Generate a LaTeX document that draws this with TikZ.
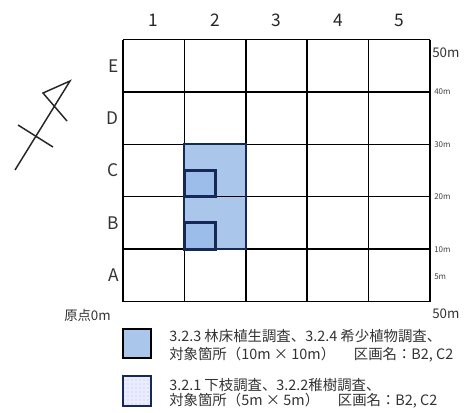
\documentclass[tikz,border=0pt]{standalone}
\usepackage{fontspec}
\setmainfont{Noto Sans CJK JP}
\usepackage{tikz}
\usetikzlibrary{patterns}

\definecolor{plotblue}{RGB}{170,198,234}
\definecolor{subblue}{RGB}{156,188,234}
\definecolor{plotnavy}{RGB}{22,40,88}

\begin{document}
\begin{tikzpicture}[
  x=0.75pt, y=-0.75pt,
  gridline/.style={line width=1.1pt, black},
  colnum/.style={font=\fontsize{13}{13}\selectfont, inner sep=0pt, text=black!85},
  rowlab/.style={font=\fontsize{13}{13}\selectfont, anchor=east, inner sep=0pt, text=black!80},
  dist/.style={font=\fontsize{6}{6}\selectfont, anchor=west, inner sep=0pt, text=black!75},
  distbig/.style={font=\fontsize{10}{10}\selectfont, anchor=west, inner sep=0pt, text=black!80},
  legtext/.style={anchor=west, align=left, inner sep=0pt, text=black!80},
  north/.style={line width=1.1pt, black!85},
]
  \useasboundingbox (0,0) rectangle (466,412);

  %% Survey plots (10m x 10m, column 2, rows B and C)
  \fill[plotblue] (184.4,144.3) rectangle (245.8,249.1);

  %% Grid lines
  \foreach \i in {0,...,5}
    \draw[gridline] ({123+61.4*\i},39.5) -- ({123+61.4*\i},301.5);
  \foreach \j in {0,...,5}
    \draw[gridline] (123,{39.5+52.4*\j}) -- (430,{39.5+52.4*\j});

  %% Plot outlines
  \draw[plotnavy, line width=1.6pt] (184.4,144.3) rectangle (245.8,249.1);
  \draw[plotnavy, line width=2.2pt, fill=subblue] (184.4,170.5) rectangle (215.1,196.7);
  \draw[plotnavy, line width=2.2pt, fill=subblue] (184.4,222.9) rectangle (215.1,249.1);

  %% Column numbers
  \foreach \c in {1,...,5}
    \node[colnum] (col\c) at ({123+61.4*(\c-0.5)},20) {\c};

  %% Row letters
  \foreach \r/\y in {E/65.7, D/118.1, C/170.5, B/222.9, A/275.3}
    \node[rowlab] (row\r) at (119,\y) {\r};

  %% Distance labels
  \node[distbig] (d50) at (432,53) {50m};
  \foreach \m/\y in {40/92, 30/145, 20/197, 10/250, 5/277}
    \node[dist] (d\m) at (434,\y) {\m m};
  \node[distbig] (dend) at (432,314) {50m};
  \node[anchor=east, inner sep=0pt, text=black!80, font=\fontsize{10}{10}\selectfont]
    (origin) at (111,315) {原点0m};

  %% North mark
  \coordinate (ntail) at (15,170);
  \coordinate (ntip) at (70,81);
  \coordinate (nwing) at (43,93);
  \coordinate (nfoot) at (67,121);
  \coordinate (barl) at (18,125);
  \coordinate (barr) at (53,147);
  \draw[north] (ntail) -- (ntip) -- (nwing) -- (nfoot);
  \draw[north] (barl) -- (barr);

  %% Legend
  \draw[black, line width=2pt, fill=plotblue] (123,329) rectangle (151,358);
  \node[legtext, font=\fontsize{10.8}{13.5}\selectfont] (leg1) at (169,346)
    {3.2.3 林床植生調査、3.2.4 希少植物調査、\\
     対象箇所（10m × 10m）\hspace{1.3em}区画名：B2, C2};

  \fill[blue!8] (123,376) rectangle (151,406);
  \fill[pattern=dots, pattern color=plotblue] (123,376) rectangle (151,406);
  \draw[plotnavy, line width=2.2pt] (123,376) rectangle (151,406);
  \node[legtext, font=\fontsize{10.8}{11.5}\selectfont] (leg2) at (169,393)
    {3.2.1 下枝調査、3.2.2稚樹調査、\\
     対象箇所（5m × 5m）\hspace{1.3em}区画名：B2, C2};
\end{tikzpicture}
\end{document}
